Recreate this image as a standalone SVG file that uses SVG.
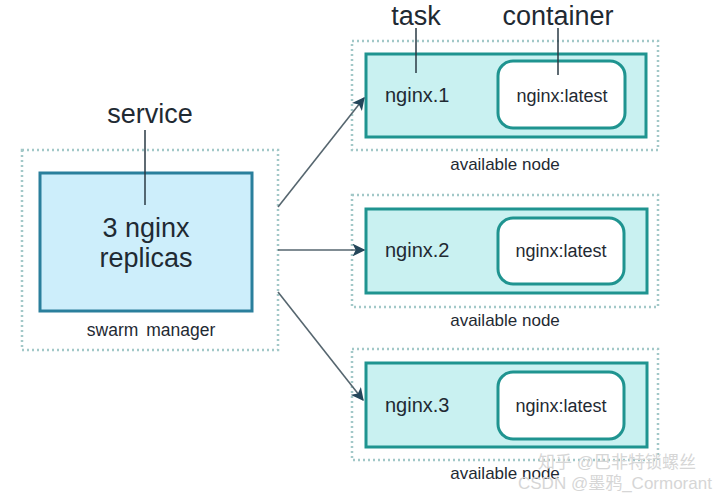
<svg xmlns="http://www.w3.org/2000/svg" width="720" height="497" viewBox="0 0 720 497">
<style>
text{font-family:"Liberation Sans",Arial,sans-serif;fill:#1f2a33}
.dot{fill:none;stroke:#a2c8c8;stroke-width:2.5;stroke-dasharray:2 3}
.task{fill:#c9f1f1;stroke:#1f9490;stroke-width:3}
.cont{fill:#ffffff;stroke:#1f9490;stroke-width:3}
.lead{stroke:#2a3a44;stroke-width:1.5}
.big{font-size:27px}
.lbl{font-size:17px}
.tn{font-size:20px}
.cn{font-size:18px}
.conn{stroke:#56666f;stroke-width:1.6;fill:none}
.wm{font-size:17px;fill:#d6d6d6;font-family:"Liberation Sans","Noto Sans CJK SC",sans-serif}
</style>
<defs>
<marker id="ah" viewBox="0 0 10 10" refX="9" refY="5" markerWidth="8" markerHeight="8" orient="auto" markerUnits="strokeWidth">
<path d="M0,0 L10,5 L0,10 L2.5,5 z" fill="#24465a"/>
</marker>
</defs>
<rect width="720" height="497" fill="#ffffff"/>

<g id="manager">
<rect class="dot" x="22" y="150" width="256" height="200"/>
<rect x="40" y="173" width="212" height="138" fill="#cdeefb" stroke="#2a7f9c" stroke-width="3"/>
<text class="big" x="146" y="237" text-anchor="middle">3 nginx</text>
<text class="big" x="146" y="267" text-anchor="middle">replicas</text>
<text x="151" y="336" text-anchor="middle" font-size="17.5" word-spacing="3">swarm manager</text>
<text class="big" x="150" y="123" text-anchor="middle">service</text>
<line class="lead" x1="145" y1="130" x2="145" y2="205"/>
</g>

<g id="node1">
<rect class="dot" x="352" y="41" width="306" height="109"/>
<rect class="task" x="366" y="54" width="280" height="83"/>
<rect class="cont" x="498" y="61" width="127" height="67" rx="15"/>
<text class="tn" x="385" y="102">nginx.1</text>
<text class="cn" x="562" y="102" text-anchor="middle">nginx:latest</text>
<text class="lbl" x="505" y="170" text-anchor="middle">available node</text>
</g>

<g id="node2">
<rect class="dot" x="352" y="195" width="306" height="112"/>
<rect class="task" x="366" y="209" width="281" height="84"/>
<rect class="cont" x="498" y="218" width="126" height="66" rx="15"/>
<text class="tn" x="385" y="257">nginx.2</text>
<text class="cn" x="561" y="257" text-anchor="middle">nginx:latest</text>
<text class="lbl" x="505" y="326" text-anchor="middle">available node</text>
</g>

<g id="node3">
<rect class="dot" x="352" y="349" width="306" height="111"/>
<rect class="task" x="366" y="363" width="281" height="84"/>
<rect class="cont" x="498" y="372" width="126" height="67" rx="15"/>
<text class="tn" x="385" y="412">nginx.3</text>
<text class="cn" x="561" y="412" text-anchor="middle">nginx:latest</text>
<text class="lbl" x="505" y="479" text-anchor="middle">available node</text>
</g>

<g id="labels">
<text class="big" x="416" y="25" text-anchor="middle">task</text>
<line class="lead" x1="416" y1="28" x2="416" y2="73"/>
<text class="big" x="558" y="25" text-anchor="middle">container</text>
<line class="lead" x1="558" y1="28" x2="558" y2="75"/>
</g>

<g id="connectors">
<line class="conn" x1="278" y1="207" x2="364" y2="98" marker-end="url(#ah)"/>
<line class="conn" x1="278" y1="250" x2="364" y2="250" marker-end="url(#ah)"/>
<line class="conn" x1="278" y1="292" x2="363" y2="400" marker-end="url(#ah)"/>
</g>

<g id="watermark">
<text class="wm" x="538" y="468">知乎 @巴非特锁螺丝</text>
<text class="wm" x="518" y="489">CSDN @墨鸦_Cormorant</text>
</g>
</svg>
